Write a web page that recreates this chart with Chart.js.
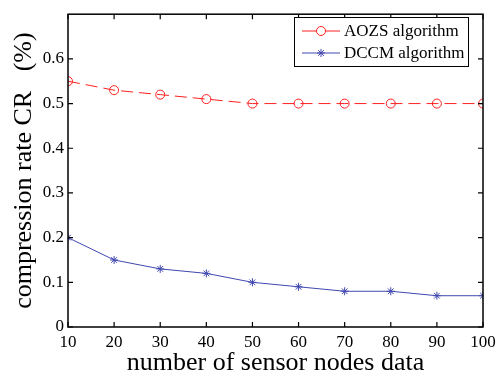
<!DOCTYPE html>
<html><head><meta charset="utf-8">
<script src="https://cdn.jsdelivr.net/npm/chart.js@4"></script>
<style>html,body{margin:0;padding:0;background:#fff}#w{width:496px;height:376px}</style>
</head><body><div id="w"><canvas id="c" width="496" height="376"></canvas></div>
<script>
const nodes = [10,20,30,40,50,60,70,80,90,100];
const aozs = [0.55,0.53,0.52,0.51,0.50,0.50,0.50,0.50,0.50,0.50];
const dccm = [0.20,0.15,0.13,0.12,0.10,0.09,0.08,0.08,0.07,0.07];
const yTicks = [0,0.1,0.2,0.3,0.4,0.5,0.6];
const seriesNames = ['AOZS algorithm','DCCM algorithm'];

const FONT = '"Liberation Serif", "Times New Roman", serif';
const RED = '#ff2020', BLUE = '#4048b0';

const frame = {
  id:'frame',
  afterDraw(chart){
    const {ctx, chartArea:a, scales:{x,y}} = chart;
    ctx.save();
    ctx.strokeStyle='#000'; ctx.lineWidth=1.5;
    ctx.strokeRect(a.left, a.top, a.right-a.left, a.bottom-a.top);
    ctx.lineWidth=1.2;
    nodes.forEach(v=>{const p=x.getPixelForValue(v);
      ctx.beginPath();ctx.moveTo(p,a.bottom);ctx.lineTo(p,a.bottom-5);ctx.moveTo(p,a.top);ctx.lineTo(p,a.top+5);ctx.stroke();});
    yTicks.forEach(v=>{const p=y.getPixelForValue(v);
      ctx.beginPath();ctx.moveTo(a.left,p);ctx.lineTo(a.left+5,p);ctx.moveTo(a.right,p);ctx.lineTo(a.right-5,p);ctx.stroke();});
    // legend
    const lx=294, ly=17, lw=174, lh=49;
    ctx.fillStyle='#fff'; ctx.fillRect(lx,ly,lw,lh);
    ctx.strokeStyle='#000'; ctx.lineWidth=1; ctx.strokeRect(lx+0.5,ly+0.5,lw,lh);
    chart.data.datasets.forEach((ds,i)=>{
      const yy = ly+14+i*22;
      ctx.strokeStyle=ds.borderColor; ctx.lineWidth=1; ctx.setLineDash([]);
      ctx.beginPath(); ctx.moveTo(302,yy); ctx.lineTo(340,yy); ctx.stroke();
      Chart.helpers.drawPoint(ctx,{pointStyle:ds.pointStyle,radius:ds.pointRadius,borderWidth:1},321,yy);
      ctx.fillStyle='#000'; ctx.font='17px '+FONT; ctx.textBaseline='middle'; ctx.textAlign='left';
      ctx.fillText(seriesNames[i],344,yy+1);
    });
    ctx.restore();
  }
};

new Chart(document.getElementById('c'),{
  type:'line',
  data:{datasets:[
    {label:seriesNames[0],data:nodes.map((n,i)=>({x:n,y:aozs[i]})),borderColor:RED,backgroundColor:'#fff',
     borderWidth:1,borderDash:[12,6],pointStyle:'circle',pointRadius:4.5,pointBorderWidth:1,pointBorderColor:RED,pointBackgroundColor:'rgba(255,255,255,0)'},
    {label:seriesNames[1],data:nodes.map((n,i)=>({x:n,y:dccm[i]})),borderColor:BLUE,backgroundColor:BLUE,
     borderWidth:1,pointStyle:'star',pointRadius:4,pointBorderWidth:1,pointBorderColor:BLUE}
  ]},
  options:{
    responsive:false,animation:false,
    layout:{padding:{top:10,right:0,left:0,bottom:0}},
    plugins:{legend:{display:false},tooltip:{enabled:false}},
    scales:{
      x:{type:'linear',min:10,max:100,
        ticks:{stepSize:10,color:'#000',font:{family:FONT,size:17},padding:5,maxRotation:0},
        grid:{display:false,drawTicks:false},border:{display:false},
        title:{display:true,text:'number of sensor nodes data',color:'#000',font:{family:FONT,size:26},padding:{top:0,bottom:-3}},
        afterFit(s){s.height=49; s.paddingRight=13; s.paddingLeft=0;}
      },
      y:{min:0,max:0.7,
        ticks:{stepSize:0.1,color:'#000',font:{family:FONT,size:17},padding:4,
          callback:v=>(v>0.65?'':(Math.round(v*10)/10).toString())},
        grid:{display:false,drawTicks:false},border:{display:false},
        title:{display:true,text:'compression rate CR   (%)',color:'#000',font:{family:FONT,size:26},padding:{top:9,bottom:0}},
        afterFit(s){s.width=68;}
      }
    }
  },
  plugins:[frame]
});
</script></body></html>
